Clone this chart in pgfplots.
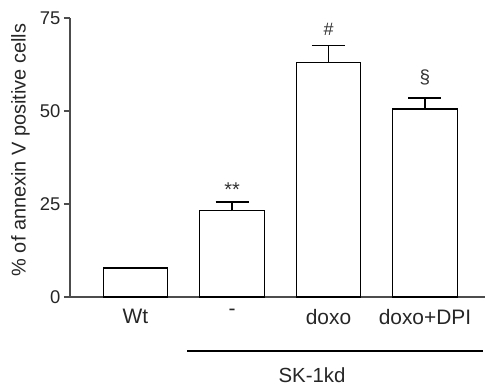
\documentclass[border=0pt]{standalone}
\usepackage{fontspec}
\setmainfont{Liberation Sans}
\usepackage{pgfplots}
\pgfplotsset{compat=1.18}
\begin{document}
\begin{tikzpicture}
\path[use as bounding box] (-70bp,-89bp) rectangle (417bp,297bp);
\begin{axis}[
  at={(0,0)}, anchor=south west,
  scale only axis, width=415bp, height=279bp,
  xmin=-0.679, xmax=3.622, ymin=0, ymax=75,
  axis x line*=bottom, axis y line*=left,
  axis line style={-, draw=black!70, line width=1.5bp},
  ytick={0,25,50,75},
  xtick={0,1,2,3}, xticklabels={Wt,-,doxo,doxo+DPI},
  tick align=outside, major tick length=6bp,
  ytick style={draw=black!70, line width=1.3bp},
  xtick style={draw=none},
  /pgf/number format/assume math mode=true,
  yticklabel style={font=\fontsize{18.5}{21}\selectfont, text=black!85},
  xticklabel style={font=\fontsize{21}{24}\selectfont, text=black!85, yshift=-3bp},
  ylabel={\% of annexin V positive cells},
  ylabel style={font=\fontsize{20}{23}\selectfont, text=black!85, at={(axis description cs:-0.1193,0.527)}, anchor=center},
  clip=false,
]
\addplot[ybar, bar width=64.5bp, draw=black, fill=white, line width=1.3bp,
  error bars/.cd, y dir=plus, y explicit,
  error mark options={rotate=90, mark size=16.5bp, line width=1.3bp, draw=black},
  error bar style={line width=1.3bp, draw=black}]
  coordinates {(0,7.8) +- (0,0.1) (1,23.3) +- (0,2.2) (2,63.1) +- (0,4.6) (3,50.5) +- (0,3.0)};
\node[font=\fontsize{20}{23}\selectfont, text=black!80] at (axis cs:1,28.9) {**};
\node[font=\fontsize{18}{21}\selectfont, text=black!80] at (axis cs:2,72) {\#};
\node[font=\fontsize{19}{22}\selectfont, text=black!80] at (axis cs:3,58.9) {§};
\end{axis}
\draw[line width=1.5bp, black] (117bp,-54bp) -- (413bp,-54bp);
\node[font=\fontsize{20.5}{24}\selectfont, text=black!85] at (242bp,-78bp) {SK-1kd};
\end{tikzpicture}
\end{document}
